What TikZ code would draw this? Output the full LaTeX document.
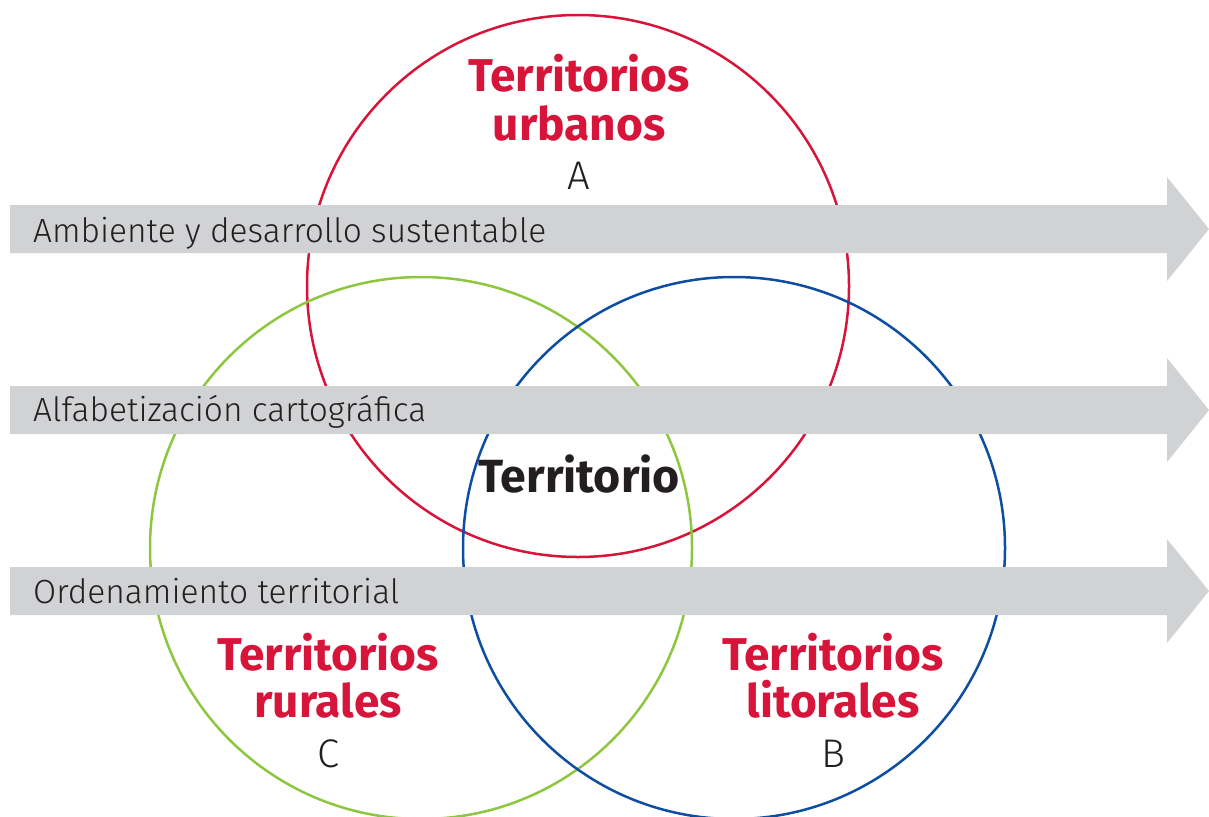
\documentclass[tikz,border=0pt]{standalone}
\usepackage{fontspec}
\setmainfont{Fira Sans}
\newfontfamily\lightf{Fira Sans Light}
\definecolor{urbred}{HTML}{D7143A}
\definecolor{rurgreen}{HTML}{8DC63F}
\definecolor{litblue}{HTML}{0D4EA2}
\definecolor{bandgray}{HTML}{D1D2D4}
\definecolor{txt}{HTML}{231F20}
\tikzset{
  venn/.style={circle, line width=2.5pt, minimum size=542pt, inner sep=0pt},
  band/.style={fill=bandgray},
  bandlabel/.style={anchor=base west, inner sep=0pt, text=txt, font=\lightf\fontsize{33.5}{40}\selectfont},
  title/.style={anchor=base, inner sep=0pt, text=urbred, font=\bfseries\fontsize{46}{48}\selectfont},
  letter/.style={anchor=base, inner sep=0pt, text=txt, font=\lightf\fontsize{40}{48}\selectfont},
  center/.style={anchor=base, inner sep=0pt, text=txt, font=\bfseries\fontsize{46.5}{48}\selectfont}
}
\begin{document}
\begin{tikzpicture}[x=1pt,y=-1pt]
\useasboundingbox (0,0) rectangle (1209,816);
\node[venn, draw=urbred] (A) at (578,286) {};
\node[venn, draw=rurgreen] (C) at (421,548) {};
\node[venn, draw=litblue] (B) at (734,548) {};
\fill[band] (10,205) -- (1167,205) -- (1167,177) -- (1209,229) -- (1167,281) -- (1167,253) -- (10,253) -- cycle;
\fill[band] (10,386) -- (1167,386) -- (1167,358) -- (1209,410) -- (1167,462) -- (1167,434) -- (10,434) -- cycle;
\fill[band] (10,567) -- (1167,567) -- (1167,539) -- (1209,591) -- (1167,643) -- (1167,615) -- (10,615) -- cycle;
\node[bandlabel] (l1) at (33,242) {Ambiente y desarrollo sustentable};
\node[bandlabel] (l2) at (33,421) {Alfabetización cartográfica};
\node[bandlabel] (l3) at (33,603) {Ordenamiento territorial};
\node[title] (a1) at (579,92) {Territorios};
\node[title] (a2) at (579,140) {urbanos};
\node[letter] (a3) at (579,189) {A};
\node[title] (c1) at (328,670) {Territorios};
\node[title] (c2) at (328,717) {rurales};
\node[letter] (c3) at (328,767) {C};
\node[title] (b1) at (833,670) {Territorios};
\node[title] (b2) at (833,717) {litorales};
\node[letter] (b3) at (833,767) {B};
\node[center] (t) at (579,492) {Territorio};
\end{tikzpicture}
\end{document}
